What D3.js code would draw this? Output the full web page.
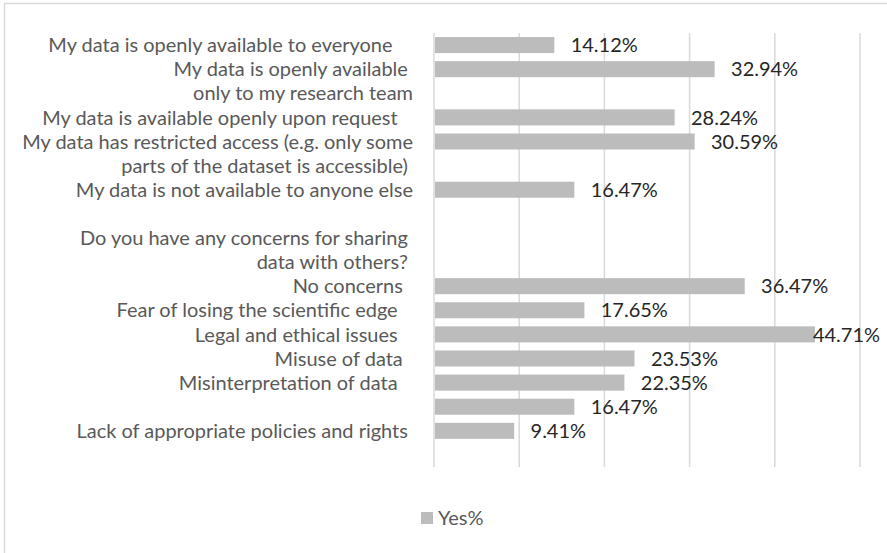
<!DOCTYPE html>
<html>
<head>
<meta charset="utf-8">
<script src="https://cdn.jsdelivr.net/npm/d3@7"></script>
<style>
  html, body { margin: 0; padding: 0; background: #ffffff; }
  svg { display: block; }
  text { font-family: Lato, "Open Sans", sans-serif; white-space: pre; }
</style>
</head>
<body>
<div id="chart"></div>
<script>
// Category rows, top to bottom. A label may wrap onto the rows below it;
// rows that carry no bar have a null value.
const categories = [
  "My data is openly available to everyone    ",
  "My data is openly available \nonly to my research team",
  "",
  "My data is available openly upon request   ",
  "My data has restricted access (e.g. only some\nparts of the dataset is accessible) ",
  "",
  "My data is not available to anyone else",
  "",
  "Do you have any concerns for sharing \ndata with others? ",
  "",
  "No concerns  ",
  "Fear of losing the scientific edge   ",
  "Legal and ethical issues   ",
  "Misuse of data  ",
  "Misinterpretation of data   ",
  "",
  "Lack of appropriate policies and rights ",
  ""
];
const yesPct = [
  14.12, 32.94, null, 28.24, 30.59, null, 16.47, null, null, null,
  36.47, 17.65, 44.71, 23.53, 22.35, 16.47, 9.41, null
];
const xTicks = [0, 10, 20, 30, 40, 50];
const seriesName = "Yes%";

const W = 887, H = 553;
const svg = d3.select("#chart").append("svg")
  .attr("width", W).attr("height", H);

// Outer chart frame (extends past the right and bottom edges)
svg.append("rect")
  .attr("x", 4.5).attr("y", 3.5)
  .attr("width", W + 20).attr("height", H + 20)
  .attr("fill", "none").attr("stroke", "#d9d9d9").attr("stroke-width", 1.5);

// Fit the font so the longest category line spans the label column
const targetWidth = 391;
const probe = svg.append("text").attr("font-size", 21.33)
  .text("My data has restricted access (e.g. only some");
const fs = 21.33 * targetWidth / probe.node().getComputedTextLength();
probe.remove();

const x = d3.scaleLinear().domain([0, 50]).range([434, 860]);
const y = d3.scaleBand().domain(d3.range(categories.length))
  .range([33, 467]).paddingInner(0.335).paddingOuter(0.1675);

// Vertical gridlines
svg.append("g").selectAll("line").data(xTicks).join("line")
  .attr("x1", d => x(d)).attr("x2", d => x(d))
  .attr("y1", y.range()[0]).attr("y2", y.range()[1])
  .attr("stroke", "#d9d9d9").attr("stroke-width", 1.5);

const rows = categories.map((label, i) => ({ i, label, v: yesPct[i] }));
const barRows = rows.filter(r => r.v != null);

// Bars
svg.append("g").selectAll("rect").data(barRows).join("rect")
  .attr("x", x(0) + 1)
  .attr("y", d => y(d.i))
  .attr("width", d => x(d.v) - x(0) - 1)
  .attr("height", y.bandwidth())
  .attr("fill", "#bcbcbc");

// Category labels, right aligned; wrapped lines continue on following rows
const labelRight = 413;
const lg = svg.append("g").attr("font-size", fs).attr("fill", "#595959");
rows.forEach(r => {
  if (!r.label) return;
  r.label.split("\n").forEach((line, k) => {
    lg.append("text")
      .attr("x", labelRight)
      .attr("y", y(r.i) + y.bandwidth() / 2 + k * y.step())
      .attr("dy", "0.36em")
      .attr("text-anchor", "end")
      .text(line);
  });
});

// Value labels, kept inside the chart frame
const rightLimit = 880;
const vg = svg.append("g").attr("font-size", fs).attr("fill", "#262626");
barRows.forEach(r => {
  const t = vg.append("text")
    .attr("y", y(r.i) + y.bandwidth() / 2)
    .attr("dy", "0.36em")
    .text(r.v.toFixed(2) + "%");
  const w = t.node().getComputedTextLength();
  t.attr("x", Math.min(x(r.v) + 16.4, rightLimit - w));
});

// Legend
const leg = svg.append("g");
leg.append("rect").attr("x", 421).attr("y", 512).attr("width", 12).attr("height", 12)
  .attr("fill", "#bcbcbc");
leg.append("text").attr("x", 438).attr("y", 518).attr("dy", "0.36em")
  .attr("font-size", fs).attr("fill", "#595959").text(seriesName);
</script>
</body>
</html>
